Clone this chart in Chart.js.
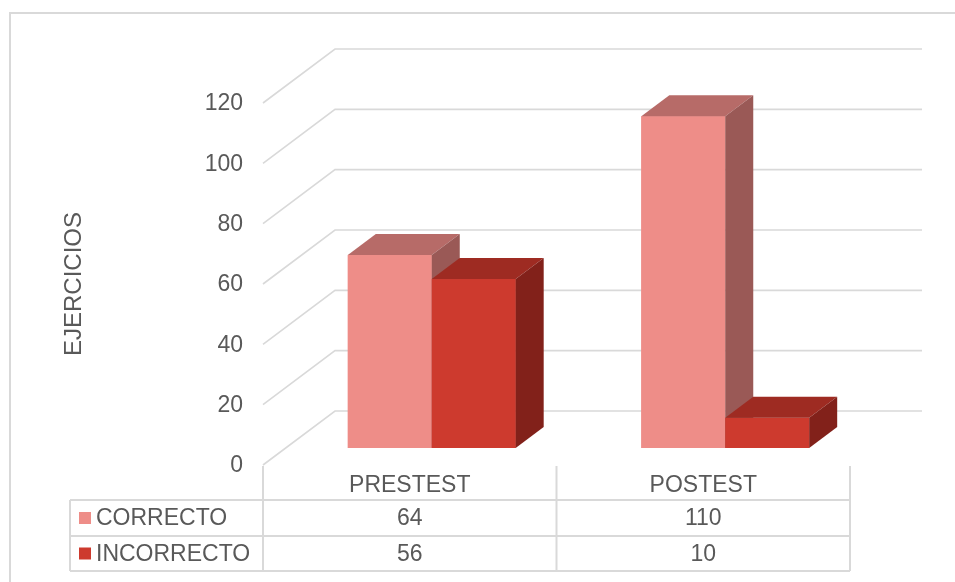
<!DOCTYPE html>
<html>
<head>
<meta charset="utf-8">
<script src="https://cdn.jsdelivr.net/npm/chart.js@4/dist/chart.umd.min.js"></script>
<style>
  html, body { margin: 0; padding: 0; background: #ffffff; }
  #wrap { width: 955px; height: 582px; position: relative; }
</style>
</head>
<body>
<div id="wrap"><canvas id="c" width="955" height="582"></canvas></div>
<script>
// ---- data ----
const categories = ['PRESTEST', 'POSTEST'];
const seriesNames = ['CORRECTO', 'INCORRECTO'];
const correcto = [64, 110];
const incorrecto = [56, 10];
const yMin = 0, yMax = 120, yStep = 20;
const axisTitle = 'EJERCICIOS';

// ---- styles ----
const FONT = '"Liberation Sans", Arial, sans-serif';
const TEXT = '#595959';
const GRID = '#d9d9d9';
const colors = [
  { front: '#ee8d88', top: '#b76b68', side: '#9a5956' },
  { front: '#cd3a2e', top: '#9e2b22', side: '#82211a' }
];
const FRONT = { dx: -22, dy: 17 };   // front wall plane relative to bar plane
const BACK = { dx: 50, dy: -37 };    // back wall plane relative to bar plane
const DEPTH = { dx: 28, dy: -21 };   // bar depth

const plugin3d = {
  id: 'plugin3d',
  beforeDatasetsDraw(chart) {
    const ctx = chart.ctx, y = chart.scales.y, a = chart.chartArea;
    ctx.save();
    // outer border
    ctx.strokeStyle = GRID; ctx.lineWidth = 2;
    ctx.beginPath(); ctx.moveTo(10, 582); ctx.lineTo(10, 13); ctx.lineTo(955, 13); ctx.stroke();
    ctx.lineWidth = 1.6;
    y.ticks.forEach(t => {
      const py = y.getPixelForValue(t.value);
      ctx.beginPath();
      ctx.moveTo(a.left + FRONT.dx, py + FRONT.dy);
      ctx.lineTo(a.left + BACK.dx, py + BACK.dy);
      ctx.lineTo(a.right + BACK.dx, py + BACK.dy);
      ctx.stroke();
    });
    ctx.restore();
  },
  afterDatasetsDraw(chart) {
    const ctx = chart.ctx;
    ctx.save();
    const n = chart.data.labels.length;
    for (let j = 0; j < n; j++) {
      chart.data.datasets.forEach((ds, i) => {
        const el = chart.getDatasetMeta(i).data[j];
        const x0 = el.x - el.width / 2, x1 = el.x + el.width / 2;
        const yt = el.y, yb = el.base;
        const c = colors[i];
        ctx.fillStyle = c.front;
        ctx.fillRect(x0, yt, x1 - x0, yb - yt);
        ctx.fillStyle = c.top;
        ctx.beginPath();
        ctx.moveTo(x0, yt); ctx.lineTo(x0 + DEPTH.dx, yt + DEPTH.dy);
        ctx.lineTo(x1 + DEPTH.dx, yt + DEPTH.dy); ctx.lineTo(x1, yt); ctx.closePath(); ctx.fill();
        ctx.fillStyle = c.side;
        ctx.beginPath();
        ctx.moveTo(x1, yt); ctx.lineTo(x1 + DEPTH.dx, yt + DEPTH.dy);
        ctx.lineTo(x1 + DEPTH.dx, yb + DEPTH.dy); ctx.lineTo(x1, yb); ctx.closePath(); ctx.fill();
      });
    }
    ctx.restore();
  },
  afterDraw(chart) {
    const ctx = chart.ctx, y = chart.scales.y, x = chart.scales.x, a = chart.chartArea;
    ctx.save();
    ctx.fillStyle = TEXT;
    ctx.font = '23px ' + FONT;
    // y tick labels
    ctx.textAlign = 'right'; ctx.textBaseline = 'middle';
    y.ticks.forEach(t => {
      ctx.fillText(String(t.value), 243, y.getPixelForValue(t.value) + FRONT.dy + 1);
    });
    // axis title
    ctx.save();
    ctx.translate(74, 284);
    ctx.rotate(-Math.PI / 2);
    ctx.textAlign = 'center';
    ctx.font = '24px ' + FONT;
    ctx.fillText(axisTitle, 0, 0);
    ctx.restore();
    // data table
    const left = a.left + FRONT.dx, right = a.right + FRONT.dx;
    const mid = (x.getPixelForValue(0) + x.getPixelForValue(1)) / 2 + FRONT.dx;
    const tblLeft = 70, rowTop = [466, 500, 536, 571];
    ctx.strokeStyle = GRID; ctx.lineWidth = 2;
    ctx.beginPath();
    for (let r = 1; r < 4; r++) { ctx.moveTo(tblLeft, rowTop[r]); ctx.lineTo(right, rowTop[r]); }
    ctx.moveTo(tblLeft, rowTop[1]); ctx.lineTo(tblLeft, rowTop[3]);
    [left, mid, right].forEach(vx => { ctx.moveTo(vx, a.bottom + FRONT.dy + 1); ctx.lineTo(vx, rowTop[3]); });
    ctx.stroke();
    ctx.fillStyle = TEXT;
    ctx.textAlign = 'center'; ctx.textBaseline = 'middle';
    categories.forEach((cat, j) => {
      ctx.fillText(cat, x.getPixelForValue(j) + FRONT.dx, 486);
    });
    chart.data.datasets.forEach((ds, i) => {
      const cy = (rowTop[i + 1] + rowTop[i + 2]) / 2 + 1;
      ds.data.forEach((v, j) => {
        ctx.textAlign = 'center';
        ctx.fillText(String(v), x.getPixelForValue(j) + FRONT.dx, cy);
      });
      ctx.fillStyle = colors[i].front;
      ctx.fillRect(79, cy - 7, 12, 12);
      ctx.fillStyle = TEXT;
      ctx.textAlign = 'left';
      ctx.fillText(ds.label, 96, cy);
    });
    ctx.restore();
  }
};

new Chart(document.getElementById('c'), {
  type: 'bar',
  data: {
    labels: categories,
    datasets: [
      { label: seriesNames[0], data: correcto, backgroundColor: colors[0].front },
      { label: seriesNames[1], data: incorrecto, backgroundColor: colors[1].front }
    ]
  },
  options: {
    responsive: false,
    devicePixelRatio: 1,
    animation: false,
    layout: { padding: { left: 285, right: 83, top: 86, bottom: 134 } },
    datasets: { bar: { categoryPercentage: 0.572, barPercentage: 1.0 } },
    plugins: { legend: { display: false }, tooltip: { enabled: false } },
    scales: {
      x: { display: false },
      y: { display: false, min: yMin, max: yMax, ticks: { stepSize: yStep } }
    }
  },
  plugins: [plugin3d]
});
</script>
</body>
</html>
